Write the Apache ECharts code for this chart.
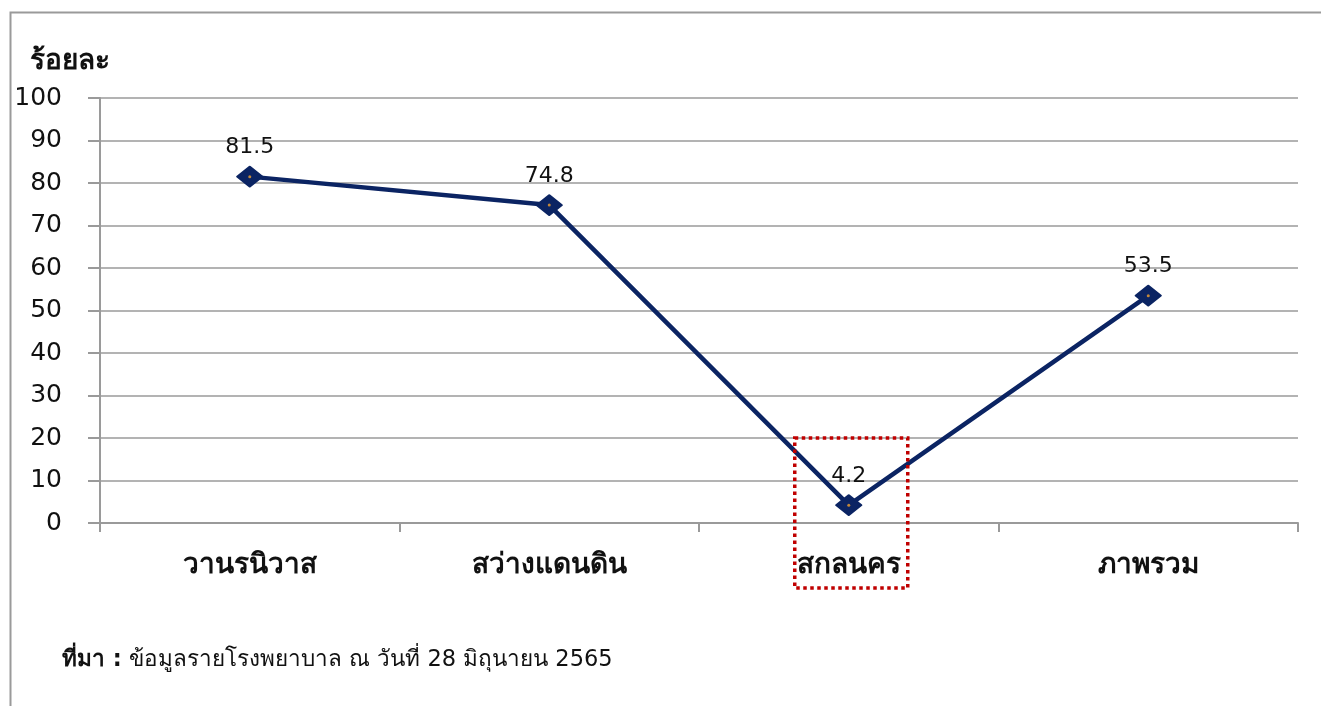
<!DOCTYPE html>
<html><head><meta charset="utf-8">
<script src="https://cdn.jsdelivr.net/npm/echarts@6/dist/echarts.min.js"></script>
<style>html,body{margin:0;padding:0;background:#fff}#c{width:1321px;height:706px}</style>
</head><body><div id="c"></div>
<script>
const categories = ['วานรนิวาส', 'สว่างแดนดิน', 'สกลนคร', 'ภาพรวม'];
const values = [81.5, 74.8, 4.2, 53.5];
const yTicks = { min: 0, max: 100, interval: 10 };
const yName = 'ร้อยละ';
const highlightCategory = 'สกลนคร';
const sourceLabel = 'ที่มา :';
const sourceText = ' ข้อมูลรายโรงพยาบาล ณ วันที่ 28 มิถุนายน 2565';

const font = '"DejaVu Sans", "Noto Sans", sans-serif';
const chart = echarts.init(document.getElementById('c'), null, { renderer: 'canvas' });
const option = {
  backgroundColor: '#fff',
  animation: false,
  grid: { left: 100, right: 23, top: 98, bottom: 183, containLabel: false },
  xAxis: {
    type: 'category', data: categories, boundaryGap: true,
    axisLine: { lineStyle: { color: '#9a9a9a', width: 2 } },
    axisTick: { show: true, length: 9, lineStyle: { color: '#9a9a9a', width: 2 }, alignWithLabel: false },
    axisLabel: { margin: 29, color: '#111', fontSize: 28, fontWeight: 'bold', fontFamily: font },
    splitLine: { show: false }
  },
  yAxis: {
    type: 'value', min: yTicks.min, max: yTicks.max, interval: yTicks.interval,
    name: yName, nameLocation: 'end', nameGap: 22,
    nameTextStyle: { fontSize: 28, fontWeight: 'bold', color: '#111', fontFamily: font, align: 'left', padding: [0, 0, 0, -70] },
    axisLine: { show: true, lineStyle: { color: '#9a9a9a', width: 2 } },
    axisTick: { show: true, length: 12, lineStyle: { color: '#9a9a9a', width: 2 } },
    axisLabel: { margin: 38, color: '#111', fontSize: 25, fontFamily: font, padding: [4, 0, 0, 0] },
    splitLine: { show: true, lineStyle: { color: '#9a9a9a', width: 1.5 } }
  },
  series: [
    {
      type: 'line', data: values,
      lineStyle: { color: '#0b2463', width: 4.5 },
      symbol: 'diamond', symbolSize: [25, 20],
      itemStyle: { color: '#0b2463', borderColor: '#0b2463', borderWidth: 2, borderJoin: 'round' },
      label: { show: true, position: 'top', distance: 7, color: '#111', fontSize: 22, fontFamily: font },
      z: 3
    },
    {
      type: 'scatter', data: values, symbol: 'circle', symbolSize: 3,
      itemStyle: { color: '#f0a030' }, silent: true, z: 5
    }
  ]
};
chart.setOption(option);
const cx = chart.convertToPixel({ xAxisIndex: 0 }, highlightCategory);
const yTop = chart.convertToPixel({ yAxisIndex: 0 }, 20);
chart.setOption({
  graphic: [
    { type: 'rect', left: 8, top: 10, shape: { width: 1330, height: 720 },
      style: { fill: null, stroke: '#9a9a9a', lineWidth: 2 }, z: -10 },
    { type: 'text', left: 62, top: 649,
      style: { rich: { b: { fontWeight: 'bold', fontSize: 22.5, fontFamily: font, fill: '#111' }, n: { fontSize: 22.5, fontFamily: font, fill: '#111' } },
        text: '{b|' + sourceLabel + '}{n|' + sourceText + '}' } },
    { type: 'rect', shape: { x: cx - 54, y: yTop, width: 113, height: 150 },
      style: { fill: null, stroke: '#c00000', lineWidth: 3.5, lineDash: [3.5, 3.5] }, z: 10 }
  ]
});
</script></body></html>
